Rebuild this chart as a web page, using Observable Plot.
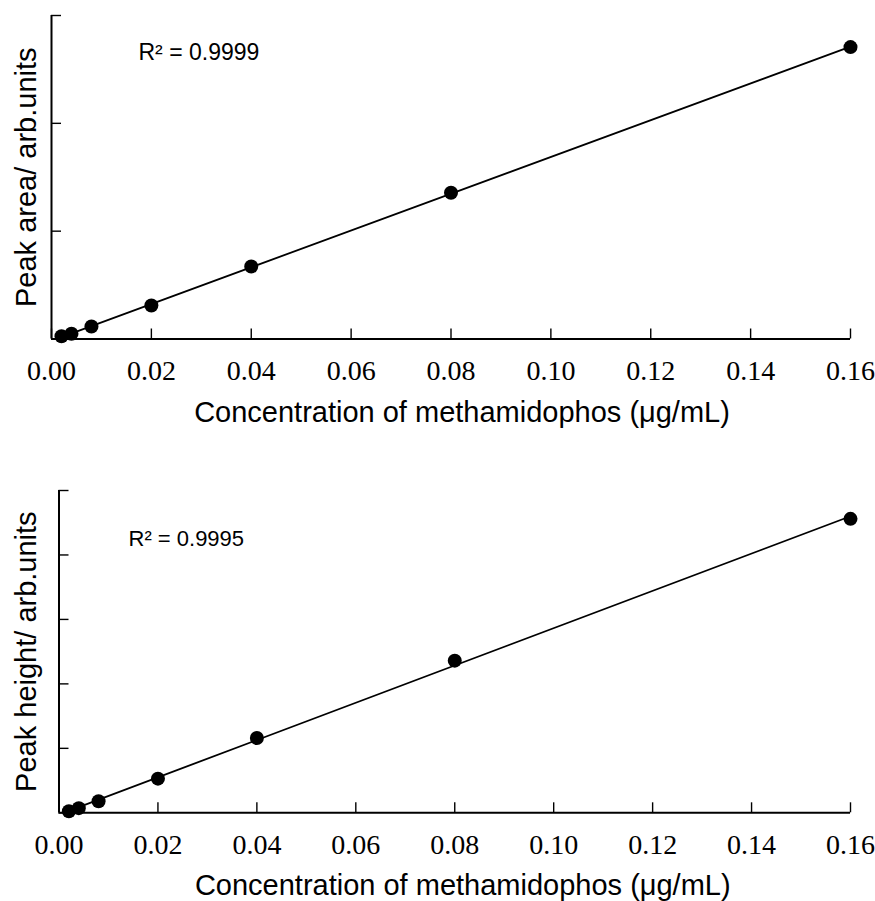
<!DOCTYPE html>
<html>
<head>
<meta charset="utf-8">
<script src="https://cdn.jsdelivr.net/npm/d3@7"></script>
<script src="https://cdn.jsdelivr.net/npm/@observablehq/plot@0.6"></script>
<style>
  body { margin: 0; background: #fff; }
  #chart svg { display: block; }
</style>
</head>
<body>
<div id="chart"></div>
<script>
// Data
const concentration = [0.002, 0.004, 0.008, 0.02, 0.04, 0.08, 0.16];
const peakArea = [0.026, 0.048, 0.116, 0.311, 0.673, 1.356, 2.707];
const peakHeight = [0.025, 0.072, 0.18, 0.53, 1.16, 2.36, 4.56];
const xTicks = [0, 0.02, 0.04, 0.06, 0.08, 0.10, 0.12, 0.14, 0.16];
const areaTicks = [0, 1, 2, 3];
const heightTicks = [0, 1, 2, 3, 4, 5];
const xLabel = "Concentration of methamidophos (μg/mL)";
const areaLabel = "Peak area/ arb.units";
const heightLabel = "Peak height/ arb.units";
const areaR2 = "R² = 0.9999";
const heightR2 = "R² = 0.9995";

const sans = "Arial, 'Liberation Sans', sans-serif";
const serif = "'Times New Roman', 'Liberation Serif', serif";

function panel({values, yTicks, yLabel, r2, height, marginLeft, marginRight, marginTop, marginBottom,
                r2dx, r2dy, r2Size, yLabelDx, yLabelSize, xLabelDx}) {
  const data = concentration.map((c, i) => ({c, v: values[i]}));
  return Plot.plot({
    width: 875,
    height,
    marginLeft, marginRight, marginTop, marginBottom,
    style: {background: "#fff", color: "#000", overflow: "visible"},
    x: {domain: [0, 0.16]},
    y: {domain: [0, yTicks[yTicks.length - 1]]},
    marks: [
      // inward ticks
      Plot.axisY({ticks: yTicks, tickSize: 10, dx: 10, tickFormat: () => "", label: null, strokeWidth: 1.4}),
      Plot.axisX({ticks: xTicks, tickSize: 10, dy: -10, tickFormat: () => "", label: null, strokeWidth: 1.4}),
      // tick labels
      Plot.axisX({ticks: xTicks, tickSize: 0, tickPadding: 21, tickFormat: d3.format(".2f"),
                  label: null, fontFamily: serif, fontSize: 28}),
      // axis lines
      Plot.ruleX([0], {stroke: "#000", strokeWidth: 2}),
      Plot.ruleY([0], {stroke: "#000", strokeWidth: 2}),
      // regression line and points
      Plot.linearRegressionY(data, {x: "c", y: "v", stroke: "#000", strokeWidth: 1.8, ci: 0}),
      Plot.dot(data, {x: "c", y: "v", r: 7, fill: "#000"}),
      // texts
      Plot.text([r2], {frameAnchor: "top-left", textAnchor: "start", lineAnchor: "top",
                       dx: r2dx, dy: r2dy, fontSize: r2Size, fontFamily: sans, fill: "#000"}),
      Plot.text([yLabel], {frameAnchor: "left", textAnchor: "middle", lineAnchor: "middle", rotate: -90,
                           dx: yLabelDx, fontSize: yLabelSize, fontFamily: sans, fill: "#000"}),
      Plot.text([xLabel], {frameAnchor: "bottom", textAnchor: "middle", lineAnchor: "top", dx: xLabelDx, dy: 62,
                           fontSize: 29, fontFamily: sans, fill: "#000"})
    ]
  });
}

const topPanel = panel({
  values: peakArea, yTicks: areaTicks, yLabel: areaLabel, r2: areaR2,
  height: 450, marginLeft: 51, marginRight: 25, marginTop: 15, marginBottom: 111.5,
  r2dx: 87, r2dy: 28, r2Size: 23, yLabelDx: -24.3, yLabelSize: 29, xLabelDx: 11
});
const bottomPanel = panel({
  values: peakHeight, yTicks: heightTicks, yLabel: heightLabel, r2: heightR2,
  height: 451, marginLeft: 58.5, marginRight: 25, marginTop: 40, marginBottom: 88.7,
  r2dx: 69.5, r2dy: 40, r2Size: 22, yLabelDx: -31.8, yLabelSize: 29, xLabelDx: 8
});
const root = document.getElementById("chart");
root.appendChild(topPanel);
root.appendChild(bottomPanel);
</script>
</body>
</html>
